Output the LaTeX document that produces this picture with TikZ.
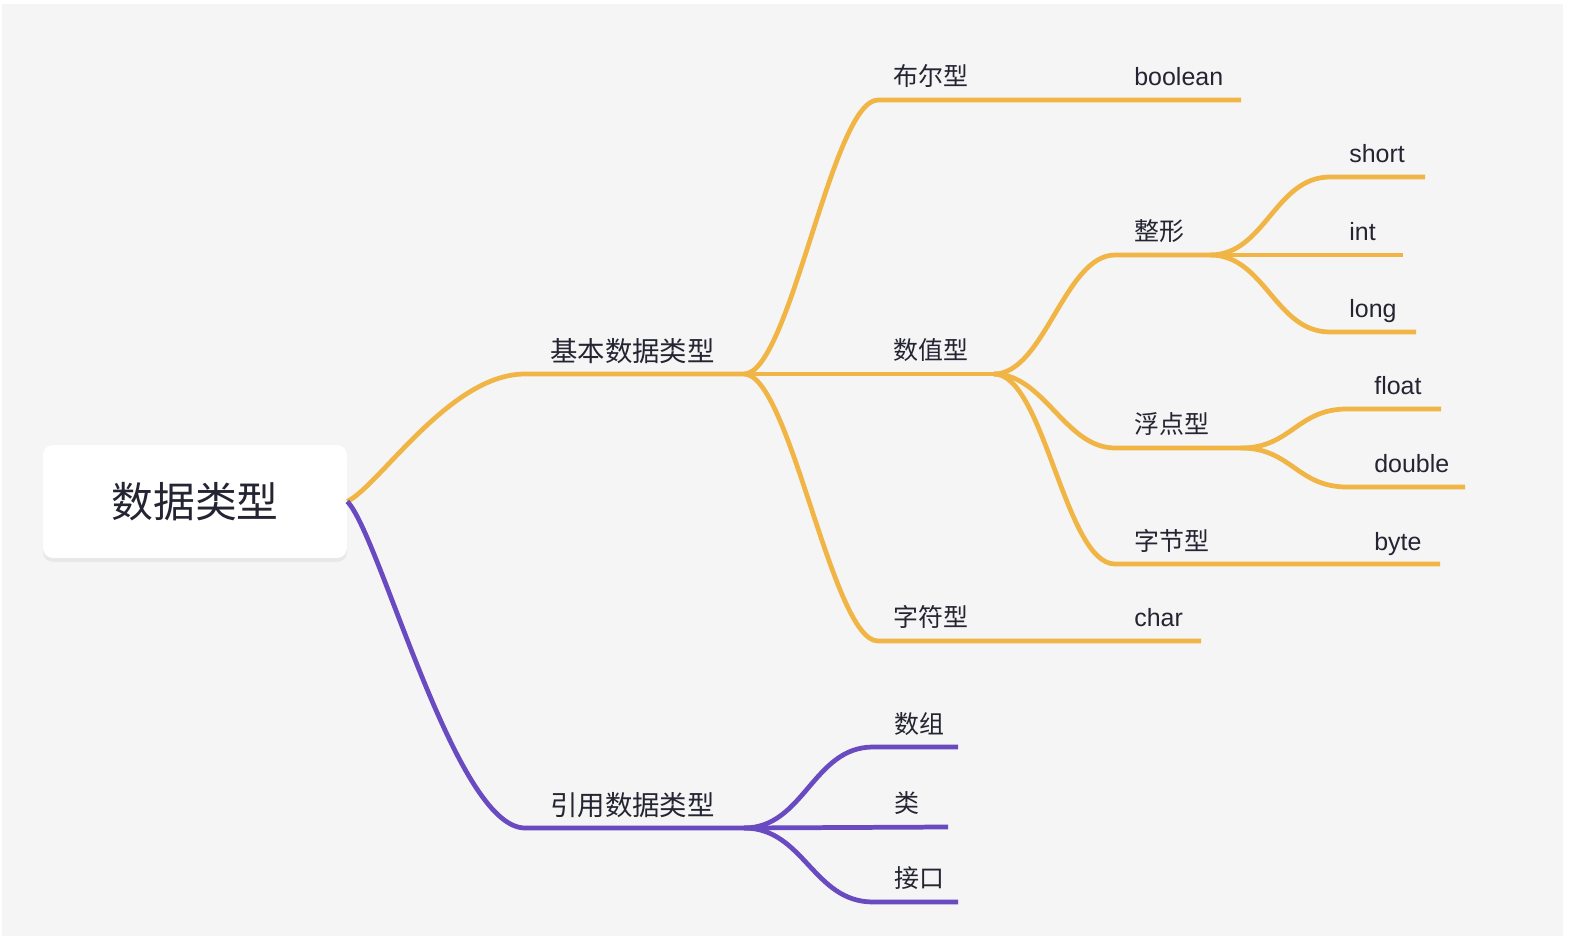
\documentclass[tikz,border=0pt]{standalone}
\usepackage{fontspec}
\setmainfont{Liberation Sans}
\newfontfamily\cjk{Noto Sans CJK SC}
\definecolor{bggray}{RGB}{245,245,245}
\definecolor{inkc}{RGB}{36,36,50}
\definecolor{mmgold}{RGB}{241,181,70}
\definecolor{mmpurple}{RGB}{106,74,192}
\begin{document}
\begin{tikzpicture}[x=0.02cm, y=-0.02cm,
  goldline/.style={draw=mmgold, line width=2.7pt},
  purpleline/.style={draw=mmpurple, line width=2.7pt},
  lbl/.style={anchor=base west, inner sep=0, text=inkc, font=\fontsize{14.2}{16}\selectfont},
  zh/.style={lbl, font=\cjk\fontsize{14.2}{16}\selectfont},
  zhtop/.style={lbl, font=\cjk\fontsize{15.6}{18}\selectfont},
  rootbox/.style={fill=white, rounded corners=0.2cm, minimum width=6.08cm,
    minimum height=2.26cm, inner sep=0, text=inkc, font=\cjk\fontsize{23.8}{26}\selectfont}]
  \fill[white] (0, 0) rectangle (1582, 939);
  \fill[bggray] (2, 4) rectangle (1563, 936);
  \fill[black, opacity=0.05, rounded corners=0.2cm] (43, 448) rectangle (347, 562);

  \node[rootbox] (root) at (195, 501.5) {数据类型};

  % junctions and line ends
  \coordinate (basic-in) at (525, 374);
  \coordinate (basic) at (744, 374);
  \coordinate (ref-in) at (525, 828);
  \coordinate (ref) at (744, 828);
  \coordinate (bool-in) at (878, 100);
  \coordinate (bool-end) at (1241, 100);
  \coordinate (num) at (994, 374);
  \coordinate (char-in) at (878, 641);
  \coordinate (char-end) at (1201, 641);
  \coordinate (int-in) at (1115, 255);
  \coordinate (intg) at (1210, 255);
  \coordinate (float-in) at (1115, 448);
  \coordinate (flt) at (1241, 448);
  \coordinate (byte-in) at (1115, 564);
  \coordinate (byte-end) at (1440, 564);
  \coordinate (short-in) at (1330, 177);
  \coordinate (short-end) at (1425, 177);
  \coordinate (int-end) at (1403, 255);
  \coordinate (long-in) at (1330, 332);
  \coordinate (long-end) at (1416, 332);
  \coordinate (f-in) at (1347, 409);
  \coordinate (f-end) at (1441, 409);
  \coordinate (d-in) at (1347, 487);
  \coordinate (d-end) at (1465, 487);
  \coordinate (arr-in) at (873, 747);
  \coordinate (arr-end) at (958, 747);
  \coordinate (cls-end) at (948, 827);
  \coordinate (itf-in) at (873, 902);
  \coordinate (itf-end) at (958, 902);

  \draw[goldline] (root.east) .. controls (380, 485) and (450, 374) .. (basic-in) -- (basic);
  \draw[purpleline] (root.east) .. controls (380, 535) and (455, 828) .. (ref-in) -- (ref);

  \draw[goldline] (basic) .. controls +(46, 0) and +(-46, 0) .. (bool-in) -- (bool-end);
  \draw[goldline] (basic) -- (num);
  \draw[goldline] (basic) .. controls +(46, 0) and +(-46, 0) .. (char-in) -- (char-end);

  \draw[goldline] (num) .. controls +(50, 0) and +(-50, 0) .. (int-in) -- (intg);
  \draw[goldline] (num) .. controls +(50, 0) and +(-50, 0) .. (float-in) -- (flt);
  \draw[goldline] (num) .. controls +(50, 0) and +(-50, 0) .. (byte-in) -- (byte-end);

  \draw[goldline] (intg) .. controls +(55, 0) and +(-55, 0) .. (short-in) -- (short-end);
  \draw[goldline] (intg) -- (int-end);
  \draw[goldline] (intg) .. controls +(55, 0) and +(-55, 0) .. (long-in) -- (long-end);

  \draw[goldline] (flt) .. controls +(50, 0) and +(-50, 0) .. (f-in) -- (f-end);
  \draw[goldline] (flt) .. controls +(50, 0) and +(-50, 0) .. (d-in) -- (d-end);

  \draw[purpleline] (ref) .. controls +(60, 0) and +(-60, 0) .. (arr-in) -- (arr-end);
  \draw[purpleline] (ref) -- (cls-end);
  \draw[purpleline] (ref) .. controls +(60, 0) and +(-60, 0) .. (itf-in) -- (itf-end);

  \node[zhtop] (basic-lbl) at (550, 361.5) {基本数据类型};
  \node[zhtop] (ref-lbl) at (550, 815.5) {引用数据类型};
  \node[zh] (bool-lbl) at (893, 85.5) {布尔型};
  \node[lbl] (boolean) at (1134, 85.5) {boolean};
  \node[zh] (num-lbl) at (893, 359.5) {数值型};
  \node[zh] (char-lbl) at (893, 626.5) {字符型};
  \node[lbl] (char) at (1134, 626.5) {char};
  \node[zh] (int-lbl) at (1134, 240.5) {整形};
  \node[zh] (float-lbl) at (1134, 433.5) {浮点型};
  \node[zh] (byte-lbl) at (1134, 550.5) {字节型};
  \node[lbl] (byte) at (1374, 550.5) {byte};
  \node[lbl] (short) at (1349, 163) {short};
  \node[lbl] (int) at (1349, 240.5) {int};
  \node[lbl] (long) at (1349, 317.5) {long};
  \node[lbl] (float) at (1374, 394.5) {float};
  \node[lbl] (double) at (1374, 472.5) {double};
  \node[zh] (arr-lbl) at (894, 733) {数组};
  \node[zh] (cls-lbl) at (894, 812.5) {类};
  \node[zh] (itf-lbl) at (894, 887.5) {接口};
\end{tikzpicture}
\end{document}
